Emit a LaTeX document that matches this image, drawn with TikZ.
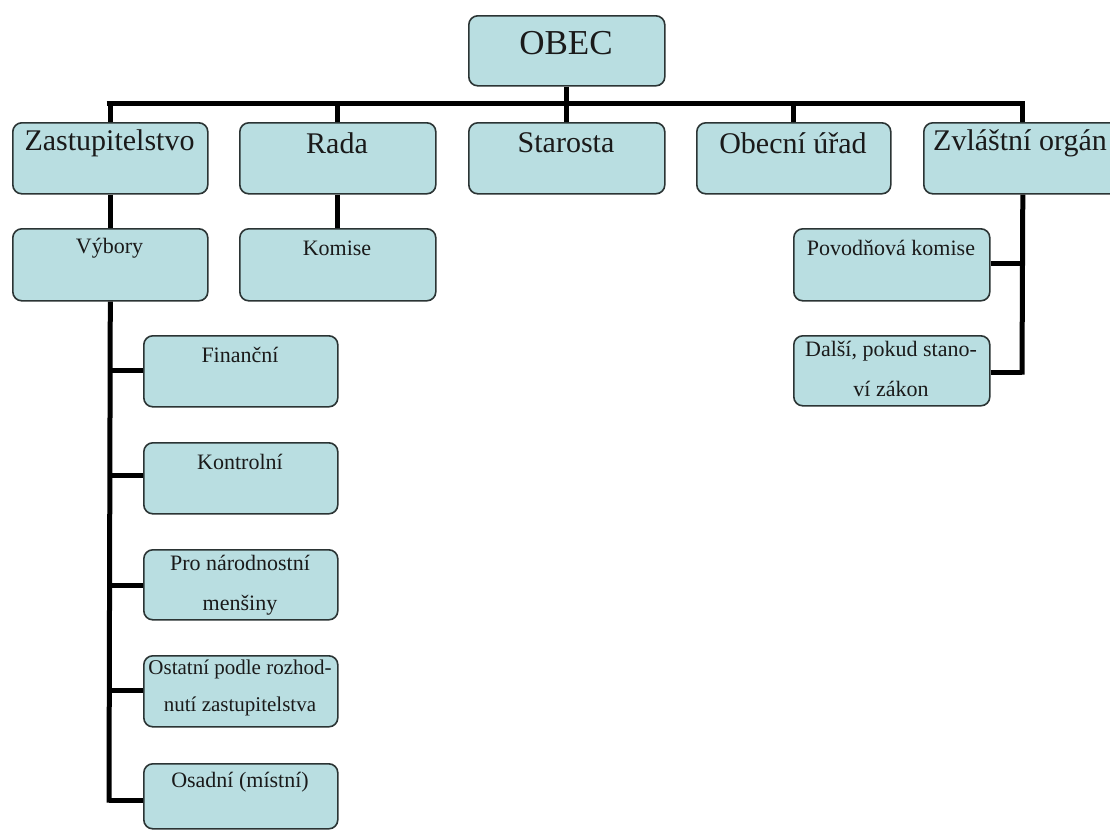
\documentclass[tikz,border=0pt]{standalone}
\usepackage{fontspec}
\setmainfont{Liberation Serif}
\usetikzlibrary{calc}
\definecolor{boxfill}{HTML}{B9DEE1}
\definecolor{boxline}{HTML}{2B3434}
\definecolor{txt}{HTML}{1A1A1A}
\tikzset{
  orgbox/.style={draw=boxline, line width=1.6pt, fill=boxfill, rounded corners=9pt, inner sep=0pt, anchor=north west},
  bigtxt/.style={font=\fontsize{35}{40}\selectfont, text=txt, inner sep=0pt},
  midtxt/.style={font=\fontsize{30}{34}\selectfont, text=txt, inner sep=0pt},
  smalltxt/.style={font=\fontsize{22}{40}\selectfont, text=txt, inner sep=0pt, align=center},
  wire/.style={line width=5pt, black},
}
\newcommand{\orgnode}[6]{%
  \node[orgbox, minimum width=#4-#2, minimum height=#5-#3] (#1) at (#2,#3) {};
}
\begin{document}
\begin{tikzpicture}[x=1pt,y=-1pt]
\useasboundingbox (0,0) rectangle (1110,830);
\clip (0,0) rectangle (1110,830);
\fill[white] (0,0) rectangle (1110,830);

% top
\orgnode{obec}{468}{15}{664}{85}{}
% level 1
\orgnode{zast}{12}{122}{207}{193}{}
\orgnode{rada}{239}{122}{435}{193}{}
\orgnode{star}{468}{122}{664}{193}{}
\orgnode{urad}{696}{122}{890}{193}{}
\orgnode{zvl}{923}{122}{1121}{193}{}
% level 2
\orgnode{vyb}{12}{228}{207}{300}{}
\orgnode{kom}{239}{228}{435}{300}{}
\orgnode{pov}{793}{228}{989}{300}{}
\orgnode{dal}{793}{335}{989}{405}{}
% committees
\orgnode{fin}{143}{335}{337}{406}{}
\orgnode{kon}{143}{442}{337}{513}{}
\orgnode{pro}{143}{549}{337}{619}{}
\orgnode{ost}{143}{655}{337}{726}{}
\orgnode{osa}{143}{763}{337}{828}{}

% texts
\node[bigtxt] (obec-t) at (566,43) {OBEC};
\node[midtxt] (zast-t) at (109.5,143) {Zastupitelstvo};
\node[midtxt] (rada-t) at (337,143) {Rada};
\node[midtxt] (star-t) at (566,143) {Starosta};
\node[midtxt] (urad-t) at (793,143) {Obecní úřad};
\node[midtxt] (zvl-t) at (1020,143) {Zvláštní orgán};
\node[smalltxt] (vyb-t) at (109.5,248) {Výbory};
\node[smalltxt] (kom-t) at (337,248) {Komise};
\node[smalltxt] (pov-t) at (891,248) {Povodňová komise};
\node[smalltxt, anchor=north] (dal-t) at (891,341) {Další, pokud stano-\\ví zákon};
\node[smalltxt] (fin-t) at (240,355) {Finanční};
\node[smalltxt] (kon-t) at (240,462) {Kontrolní};
\node[smalltxt, anchor=north] (pro-t) at (240,555) {Pro národnostní\\menšiny};
\node[smalltxt, anchor=north, font=\fontsize{21}{37}\selectfont] (ost-t) at (240,660) {Ostatní podle rozhod-\\nutí zastupitelstva};
\node[smalltxt] (osa-t) at (240,782) {Osadní (místní)};

% bus
\coordinate (busL) at (109,103);
\coordinate (busR) at (1022,103);
\draw[wire] ([xshift=-2.5pt]busL) -- ([xshift=2.5pt]busR);
\draw[wire] (obec.south) -- (obec.south |- busL);
\foreach \n in {zast,rada,star,urad,zvl}{
  \draw[wire] (\n.north) -- (\n.north |- busL);
}
% level 2 links
\draw[wire] (zast.south) -- (vyb.north);
\draw[wire] (rada.south) -- (kom.north);
% committees spine
\coordinate (spineEnd) at (109,800);
\draw[wire] (vyb.south) -- ([yshift=-2.5pt]spineEnd);
\foreach \n/\yy in {fin/370,kon/475,pro/585,ost/690,osa/800}{
  \draw[wire] (109,\yy) -- (\n.west |- 0,\yy);
}
% special organ spine
\coordinate (zvlEnd) at (1022,372);
\draw[wire] (zvl.south) -- ([yshift=-2.5pt]zvlEnd);
\draw[wire] (pov.east |- 0,263) -- (1022,263);
\draw[wire] (dal.east |- 0,372) -- (1022,372);
\end{tikzpicture}
\end{document}
